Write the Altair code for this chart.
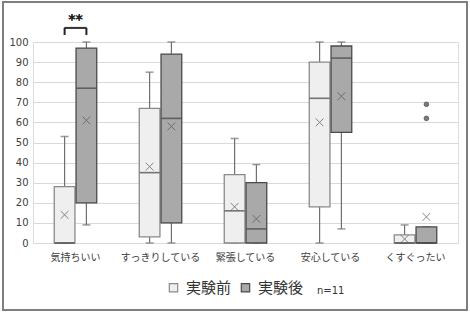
import altair as alt
import pandas as pd

cats = ["気持ちいい", "すっきりしている", "緊張している", "安心している", "くすぐったい"]
groups = ["実験前", "実験後"]

pre_min = [0, 0, 0, 0, 0]
pre_q1 = [0, 3, 0, 18, 0]
pre_med = [0, 35, 16, 72, 0]
pre_q3 = [28, 67, 34, 90, 4]
pre_max = [53, 85, 52, 100, 9]
pre_mean = [14, 38, 18, 60, 2]

post_min = [9, 0, 0, 7, 0]
post_q1 = [20, 10, 0, 55, 0]
post_med = [77, 62, 7, 92, 0]
post_q3 = [97, 94, 30, 98, 8]
post_max = [100, 100, 39, 100, 8]
post_mean = [61, 58, 12, 73, 13]

outlier_cat = ["くすぐったい", "くすぐったい"]
outlier_group = ["実験後", "実験後"]
outlier_val = [62, 69]

sig_cat = ["気持ちいい"]
sig_label = ["**"]
sig_y = [107]
sig_leg = [103.5]
sig_text_y = [111]

y_ticks = [0, 10, 20, 30, 40, 50, 60, 70, 80, 90, 100]

rows = []
for i, c in enumerate(cats):
    rows.append(dict(cat=c, group="実験前", wmin=pre_min[i], q1=pre_q1[i], med=pre_med[i],
                     q3=pre_q3[i], wmax=pre_max[i], mean=pre_mean[i]))
    rows.append(dict(cat=c, group="実験後", wmin=post_min[i], q1=post_q1[i], med=post_med[i],
                     q3=post_q3[i], wmax=post_max[i], mean=post_mean[i]))
df = pd.DataFrame(rows)
df_out = pd.DataFrame(dict(cat=outlier_cat, group=outlier_group, val=outlier_val))
df_sig = pd.DataFrame([dict(cat=sig_cat[0], group=g, y=sig_y[0], y2=sig_leg[0],
                            ty=sig_text_y[0], label=sig_label[0]) for g in groups])

JP = "Noto Sans CJK JP"

xaxis = alt.Axis(labelAngle=0, domain=False, ticks=False, labelPadding=9,
                 labelFontSize=10, labelFont=JP, labelColor="#404040")
xenc = alt.X("cat:N", sort=cats, title=None,
             scale=alt.Scale(paddingInner=0.5, paddingOuter=0.25), axis=xaxis)
xoff = alt.XOffset("group:N", sort=groups, scale=alt.Scale(paddingInner=0.05))
yscale = alt.Scale(domain=[0, 100], nice=False)
yaxis = alt.Axis(values=y_ticks, domain=False, ticks=False, labelOverlap=False,
                 gridColor="#d9d9d9", labelFontSize=10, labelPadding=5,
                 labelColor="#404040", labelFont="DejaVu Sans")


def Y(field):
    return alt.Y(field, scale=yscale, title=None, axis=yaxis)


base = alt.Chart(df)

whisker = base.mark_rule(color="#707070", strokeWidth=1.2).encode(
    x=xenc, xOffset=xoff, y=Y("wmin:Q"), y2="wmax:Q")
cap_top = base.mark_tick(color="#707070", size=8, thickness=1.5).encode(
    x=xenc, xOffset=xoff, y=Y("wmax:Q"))
cap_bot = base.mark_tick(color="#707070", size=8, thickness=1.5).encode(
    x=xenc, xOffset=xoff, y=Y("wmin:Q"))
box = base.mark_bar(strokeWidth=1.3).encode(
    x=xenc, xOffset=xoff, y=Y("q1:Q"), y2="q3:Q",
    fill=alt.Fill("group:N", sort=groups,
                  scale=alt.Scale(domain=groups, range=["#efefef", "#a9a9a9"]),
                  legend=alt.Legend(title=None, orient="none", legendX=133, legendY=238,
                                    direction="horizontal", symbolType="square",
                                    symbolSize=70, symbolStrokeColor="#505050",
                                    symbolStrokeWidth=1.2, labelFontSize=15,
                                    labelFont=JP, labelColor="#333333",
                                    columnPadding=6, labelOffset=5)),
    stroke=alt.Stroke("group:N", sort=groups,
                      scale=alt.Scale(domain=groups, range=["#8a8a8a", "#4a4a4a"]),
                      legend=None))
median = base.mark_tick(color="#404040", size=20, thickness=1.6).encode(
    x=xenc, xOffset=xoff, y=Y("med:Q"))
mean = base.mark_point(shape="M-1,-1L1,1M1,-1L-1,1", size=60, color="#555555",
                       strokeWidth=1, filled=False).encode(
    x=xenc, xOffset=xoff, y=Y("mean:Q"))
outl = alt.Chart(df_out).mark_point(size=22, filled=True, color="#7a7a7a",
                                    stroke="#555555", strokeWidth=0.8, opacity=1).encode(
    x=xenc, xOffset=xoff, y=Y("val:Q"))

sig_base = alt.Chart(df_sig)
sig_h = sig_base.mark_tick(color="#222222", size=22, thickness=2).encode(
    x=xenc, y=Y("y:Q"))
sig_legs = sig_base.mark_rule(color="#222222", strokeWidth=2).encode(
    x=xenc, xOffset=xoff, y=Y("y:Q"), y2="y2:Q")
sig_txt = sig_base.mark_text(fontSize=14, fontWeight="bold", color="#222222",
                             font="DejaVu Sans", baseline="middle").encode(
    x=xenc, y=Y("ty:Q"), text="label:N")

frame = alt.Chart(pd.DataFrame({"a": [0]})).mark_rect(
    fill=None, stroke="#7f7f7f", strokeWidth=2).encode(
    x=alt.value(-30), x2=alt.value(434), y=alt.value(-40), y2=alt.value(268))
ntext = alt.Chart(pd.DataFrame({"t": ["n=11"]})).mark_text(
    fontSize=10, color="#333333", align="left", baseline="middle",
    font="DejaVu Sans").encode(
    x=alt.value(284), y=alt.value(249), text="t:N")

chart = alt.layer(whisker, cap_top, cap_bot, box, median, mean, outl,
                  sig_h, sig_legs, sig_txt, frame, ntext).properties(
    width=425, height=201,
    autosize=alt.AutoSizeParams(type="none"),
    padding={"left": 33, "top": 42, "right": 12, "bottom": 70},
).configure_view(stroke=None).configure(background="white")

chart.save("out.html", embed_options={"renderer": "svg", "actions": False})
